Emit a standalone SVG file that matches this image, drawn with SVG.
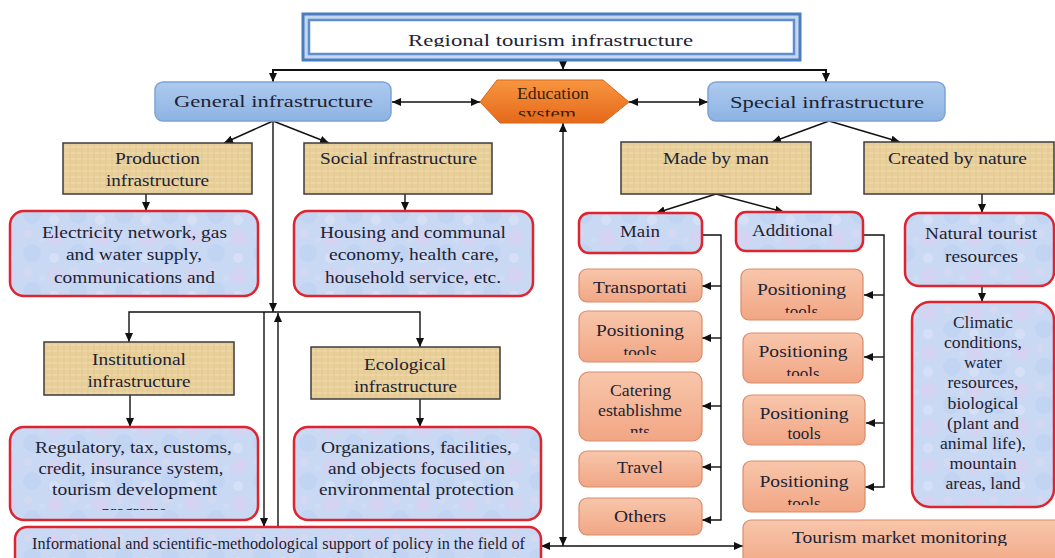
<svg xmlns="http://www.w3.org/2000/svg" width="1055" height="558" viewBox="0 0 1055 558">
<defs>
<style>
text{font-family:"Liberation Serif","Times New Roman",serif;fill:#1d2333;text-anchor:middle;font-size:17px}
.conn path{fill:none;stroke:#111;stroke-width:1.4}
.tan{fill:url(#papyrus);stroke:#3d3d3d;stroke-width:1.5}
.red{fill:url(#tissue);stroke:#E0242F;stroke-width:2.5}
.sal{fill:url(#salmon);stroke:#D98C6C;stroke-width:1.2}
.blue{fill:url(#blueg);stroke:#7EA3D6;stroke-width:1.5}
</style>
<marker id="ah" viewBox="0 0 9 8" refX="9" refY="4" markerWidth="9" markerHeight="8" markerUnits="userSpaceOnUse" orient="auto-start-reverse"><path d="M0,0 L9,4 L0,8 z" fill="#111"/></marker>
<pattern id="papyrus" width="12" height="12" patternUnits="userSpaceOnUse">
<rect width="12" height="12" fill="#E8CF99"/>
<path d="M0,3H12M0,9H12" stroke="#F0DDB2" stroke-width="1.2"/>
<path d="M4,0V12M10,0V12" stroke="#D6B97C" stroke-width="0.6" opacity=".6"/>
</pattern>
<pattern id="tissue" width="46" height="38" patternUnits="userSpaceOnUse">
<rect width="46" height="38" fill="#C9D8F3"/>
<circle cx="9" cy="10" r="8" fill="#DCCFEF" opacity=".55"/>
<circle cx="32" cy="25" r="9" fill="#B9CFF1" opacity=".5"/>
<circle cx="28" cy="6" r="4" fill="#E4D8F1" opacity=".45"/>
<circle cx="8" cy="30" r="5" fill="#DDE7F8" opacity=".55"/>
<circle cx="42" cy="12" r="3" fill="#D2DDF5" opacity=".5"/>
</pattern>
<linearGradient id="salmon" x1="0" y1="0" x2="0" y2="1"><stop offset="0" stop-color="#F8C6AB"/><stop offset="1" stop-color="#F1A684"/></linearGradient>
<linearGradient id="blueg" x1="0" y1="0" x2="0" y2="1"><stop offset="0" stop-color="#AECAEE"/><stop offset="1" stop-color="#8DB3E3"/></linearGradient>
<linearGradient id="orange" x1="0" y1="0" x2="0" y2="1"><stop offset="0" stop-color="#F7953F"/><stop offset="1" stop-color="#E5691B"/></linearGradient>
<clipPath id="cTitle"><rect x="300" y="10" width="500" height="37"/></clipPath>
<clipPath id="cEdu"><rect x="470" y="75" width="170" height="41.5"/></clipPath>
<clipPath id="cTr"><rect x="570" y="260" width="140" height="34"/></clipPath>
<clipPath id="cPm"><rect x="570" y="305" width="140" height="50"/></clipPath>
<clipPath id="cCat"><rect x="570" y="365" width="140" height="68"/></clipPath>
<clipPath id="cP1"><rect x="735" y="262" width="140" height="51"/></clipPath>
<clipPath id="cP2"><rect x="735" y="325" width="140" height="51"/></clipPath>
<clipPath id="cP4"><rect x="735" y="455" width="140" height="50"/></clipPath>
<clipPath id="cReg"><rect x="5" y="420" width="260" height="90"/></clipPath>
<clipPath id="cTm"><rect x="740" y="515" width="320" height="31"/></clipPath>
</defs>
<rect width="1055" height="558" fill="#fff"/>

<g id="connectors" class="conn">
<path d="M563,60 V70" marker-end="url(#ah)"/>
<path d="M563,70 H273 V82" marker-end="url(#ah)" style="stroke-width:2"/>
<path d="M563,70 H826 V82" marker-end="url(#ah)" style="stroke-width:2"/>
<path d="M392,102 H480" marker-start="url(#ah)" marker-end="url(#ah)"/>
<path d="M629,102 H708" marker-start="url(#ah)" marker-end="url(#ah)"/>
<path d="M273,121 L224,143" marker-end="url(#ah)"/>
<path d="M273,121 L329,143" marker-end="url(#ah)"/>
<path d="M273,121 V312" marker-end="url(#ah)"/>
<path d="M129,342 V312 H420 V347" marker-start="url(#ah)" marker-end="url(#ah)"/>
<path d="M264,312 V527" marker-end="url(#ah)"/>
<path d="M278,527 V313" marker-end="url(#ah)"/>
<path d="M146,194 V211" marker-end="url(#ah)"/>
<path d="M405,194 V211" marker-end="url(#ah)"/>
<path d="M130,395 V427" marker-end="url(#ah)"/>
<path d="M420,399 V427" marker-end="url(#ah)"/>
<path d="M563,123 V546" marker-start="url(#ah)" marker-end="url(#ah)"/>
<path d="M541,546 H743" marker-start="url(#ah)" marker-end="url(#ah)"/>
<path d="M829,121 L772,142" marker-end="url(#ah)"/>
<path d="M829,121 L900,142" marker-end="url(#ah)"/>
<path d="M716,194 L656,213" marker-end="url(#ah)"/>
<path d="M716,194 L784,212" marker-end="url(#ah)"/>
<path d="M702,235 H721 V520 H702" marker-end="url(#ah)"/>
<path d="M721,286 H702" marker-end="url(#ah)"/>
<path d="M721,338 H702" marker-end="url(#ah)"/>
<path d="M721,406 H702" marker-end="url(#ah)"/>
<path d="M721,467 H702" marker-end="url(#ah)"/>
<path d="M863,235 H884 V487 H865" marker-end="url(#ah)"/>
<path d="M884,295 H864" marker-end="url(#ah)"/>
<path d="M884,357 H864" marker-end="url(#ah)"/>
<path d="M884,423 H866" marker-end="url(#ah)"/>
<path d="M982,194 V213" marker-end="url(#ah)"/>
<path d="M982,286 V302" marker-end="url(#ah)"/>
</g>

<g id="title">
<rect x="303" y="14" width="497" height="46" fill="#C5D7EF" stroke="#4A7CC0" stroke-width="3"/>
<rect x="309" y="20" width="485" height="34" fill="#fff" stroke="#5E8ED0" stroke-width="2.5"/>
<text x="550.5" y="45.5" font-size="19" textLength="285" lengthAdjust="spacingAndGlyphs" clip-path="url(#cTitle)">Regional tourism infrastructure</text>
</g>

<g id="general">
<rect class="blue" x="155" y="82" width="236" height="39" rx="8"/>
<text x="273.5" y="107" font-size="20" textLength="199" lengthAdjust="spacingAndGlyphs">General infrastructure</text>
</g>

<g id="education">
<polygon points="480,102 497,80 603,80 629,102 603,123 500,123" fill="url(#orange)" stroke="#D9661A" stroke-width="1"/>
<g clip-path="url(#cEdu)">
<text x="553" y="99" font-size="14.5" textLength="72" lengthAdjust="spacingAndGlyphs" style="fill:#3a1e0c">Education</text>
<text x="547" y="119" font-size="14.5" textLength="58" lengthAdjust="spacingAndGlyphs" style="fill:#3a1e0c">system</text>
</g>
</g>

<g id="special">
<rect class="blue" x="708" y="82" width="237" height="39" rx="8"/>
<text x="827" y="108" font-size="20" textLength="194" lengthAdjust="spacingAndGlyphs">Special infrastructure</text>
</g>

<g id="production">
<rect class="tan" x="63" y="143" width="189" height="51"/>
<text x="157.5" y="164" textLength="85" lengthAdjust="spacingAndGlyphs">Production</text>
<text x="157.5" y="186" textLength="103" lengthAdjust="spacingAndGlyphs">infrastructure</text>
</g>

<g id="social">
<rect class="tan" x="304" y="143" width="188" height="51"/>
<text x="398.5" y="164" textLength="157" lengthAdjust="spacingAndGlyphs">Social infrastructure</text>
</g>

<g id="made-by-man">
<rect class="tan" x="621" y="142" width="190" height="52"/>
<text x="716" y="164" textLength="106" lengthAdjust="spacingAndGlyphs">Made by man</text>
</g>

<g id="created-by-nature">
<rect class="tan" x="864" y="142" width="190" height="52"/>
<text x="957.5" y="164" textLength="139" lengthAdjust="spacingAndGlyphs">Created by nature</text>
</g>

<g id="electricity">
<rect class="red" x="10" y="211" width="248" height="85" rx="14"/>
<text x="134.5" y="238" textLength="185" lengthAdjust="spacingAndGlyphs">Electricity network, gas</text>
<text x="134" y="260" textLength="136" lengthAdjust="spacingAndGlyphs">and water supply,</text>
<text x="134.5" y="283" textLength="161" lengthAdjust="spacingAndGlyphs">communications and</text>
</g>

<g id="housing">
<rect class="red" x="294" y="211" width="239" height="85" rx="14"/>
<text x="413" y="238" textLength="186" lengthAdjust="spacingAndGlyphs">Housing and communal</text>
<text x="414" y="260" textLength="170" lengthAdjust="spacingAndGlyphs">economy, health care,</text>
<text x="413" y="283" textLength="176" lengthAdjust="spacingAndGlyphs">household service, etc.</text>
</g>

<g id="main">
<rect class="red" x="579" y="213" width="123" height="40" rx="10"/>
<text x="640" y="237" textLength="40" lengthAdjust="spacingAndGlyphs">Main</text>
</g>

<g id="additional">
<rect class="red" x="736" y="212" width="127" height="39" rx="10"/>
<text x="792.5" y="236" textLength="81" lengthAdjust="spacingAndGlyphs">Additional</text>
</g>

<g id="natural">
<rect class="red" x="905" y="213" width="149" height="73" rx="14"/>
<text x="981" y="239" textLength="112" lengthAdjust="spacingAndGlyphs">Natural tourist</text>
<text x="981.5" y="262" textLength="73" lengthAdjust="spacingAndGlyphs">resources</text>
</g>

<g id="climatic">
<rect class="red" x="912" y="302" width="142" height="205" rx="18"/>
<text x="983" y="328" font-size="15" textLength="60" lengthAdjust="spacingAndGlyphs">Climatic</text>
<text x="983" y="348" font-size="15" textLength="78" lengthAdjust="spacingAndGlyphs">conditions,</text>
<text x="983" y="368" font-size="15" textLength="38" lengthAdjust="spacingAndGlyphs">water</text>
<text x="983" y="388" font-size="15" textLength="71" lengthAdjust="spacingAndGlyphs">resources,</text>
<text x="983" y="409" font-size="15" textLength="71" lengthAdjust="spacingAndGlyphs">biological</text>
<text x="983" y="429" font-size="15" textLength="72" lengthAdjust="spacingAndGlyphs">(plant and</text>
<text x="983" y="449" font-size="15" textLength="86" lengthAdjust="spacingAndGlyphs">animal life),</text>
<text x="983" y="469" font-size="15" textLength="67" lengthAdjust="spacingAndGlyphs">mountain</text>
<text x="983" y="489" font-size="15" textLength="75" lengthAdjust="spacingAndGlyphs">areas, land</text>
</g>

<g id="institutional">
<rect class="tan" x="44" y="342" width="190" height="53"/>
<text x="139" y="365" textLength="94" lengthAdjust="spacingAndGlyphs">Institutional</text>
<text x="139" y="387" textLength="103" lengthAdjust="spacingAndGlyphs">infrastructure</text>
</g>

<g id="ecological">
<rect class="tan" x="311" y="347" width="189" height="52"/>
<text x="405" y="370" textLength="82" lengthAdjust="spacingAndGlyphs">Ecological</text>
<text x="405.5" y="392" textLength="103" lengthAdjust="spacingAndGlyphs">infrastructure</text>
</g>

<g id="regulatory">
<rect class="red" x="10" y="427" width="248" height="93" rx="14"/>
<text x="133.5" y="453" textLength="197" lengthAdjust="spacingAndGlyphs">Regulatory, tax, customs,</text>
<text x="131" y="474" textLength="185" lengthAdjust="spacingAndGlyphs">credit, insurance system,</text>
<text x="134.5" y="495" textLength="165" lengthAdjust="spacingAndGlyphs">tourism development</text>
<text x="134" y="517" clip-path="url(#cReg)">programs</text>
</g>

<g id="organizations">
<rect class="red" x="294" y="427" width="247" height="93" rx="14"/>
<text x="416.5" y="453" textLength="191" lengthAdjust="spacingAndGlyphs">Organizations, facilities,</text>
<text x="416.5" y="474" textLength="177" lengthAdjust="spacingAndGlyphs">and objects focused on</text>
<text x="416.5" y="495" textLength="195" lengthAdjust="spacingAndGlyphs">environmental protection</text>
</g>

<g id="informational">
<rect class="red" x="15" y="527" width="526" height="45" rx="12"/>
<text x="278.5" y="549" font-size="15.5" textLength="493" lengthAdjust="spacingAndGlyphs">Informational and scientific-methodological support of policy in the field of</text>
</g>

<g id="transportation">
<rect class="sal" x="579" y="269" width="123" height="33" rx="8"/>
<text x="640" y="293" textLength="94" lengthAdjust="spacingAndGlyphs" clip-path="url(#cTr)">Transportati</text>
</g>

<g id="positioning-main">
<rect class="sal" x="579" y="311" width="123" height="51" rx="8"/>
<g clip-path="url(#cPm)">
<text x="640" y="336" textLength="88" lengthAdjust="spacingAndGlyphs">Positioning</text>
<text x="640" y="358">tools</text>
</g>
</g>

<g id="catering">
<rect class="sal" x="579" y="372" width="123" height="69" rx="10"/>
<g clip-path="url(#cCat)">
<text x="640.5" y="396" textLength="61" lengthAdjust="spacingAndGlyphs">Catering</text>
<text x="640" y="416" textLength="84" lengthAdjust="spacingAndGlyphs">establishme</text>
<text x="640" y="437">nts</text>
</g>
</g>

<g id="travel">
<rect class="sal" x="579" y="451" width="123" height="36" rx="8"/>
<text x="640" y="473" textLength="46" lengthAdjust="spacingAndGlyphs">Travel</text>
</g>

<g id="others">
<rect class="sal" x="579" y="498" width="123" height="37" rx="8"/>
<text x="640" y="522" textLength="52" lengthAdjust="spacingAndGlyphs">Others</text>
</g>

<g id="positioning-1">
<rect class="sal" x="741" y="269" width="122" height="51" rx="8"/>
<g clip-path="url(#cP1)">
<text x="801.5" y="295" textLength="89" lengthAdjust="spacingAndGlyphs">Positioning</text>
<text x="801.5" y="317">tools</text>
</g>
</g>

<g id="positioning-2">
<rect class="sal" x="743" y="333" width="120" height="50" rx="8"/>
<g clip-path="url(#cP2)">
<text x="803" y="357" textLength="89" lengthAdjust="spacingAndGlyphs">Positioning</text>
<text x="803" y="379">tools</text>
</g>
</g>

<g id="positioning-3">
<rect class="sal" x="743" y="395" width="122" height="50" rx="8"/>
<text x="804" y="419" textLength="89" lengthAdjust="spacingAndGlyphs">Positioning</text>
<text x="804" y="439">tools</text>
</g>

<g id="positioning-4">
<rect class="sal" x="743" y="461" width="122" height="51" rx="8"/>
<g clip-path="url(#cP4)">
<text x="804" y="487" textLength="89" lengthAdjust="spacingAndGlyphs">Positioning</text>
<text x="804" y="509">tools</text>
</g>
</g>

<g id="market-monitoring">
<rect class="sal" x="743" y="520" width="322" height="50" rx="8"/>
<text x="899.5" y="543" textLength="215" lengthAdjust="spacingAndGlyphs" clip-path="url(#cTm)">Tourism market monitoring</text>
</g>
</svg>
